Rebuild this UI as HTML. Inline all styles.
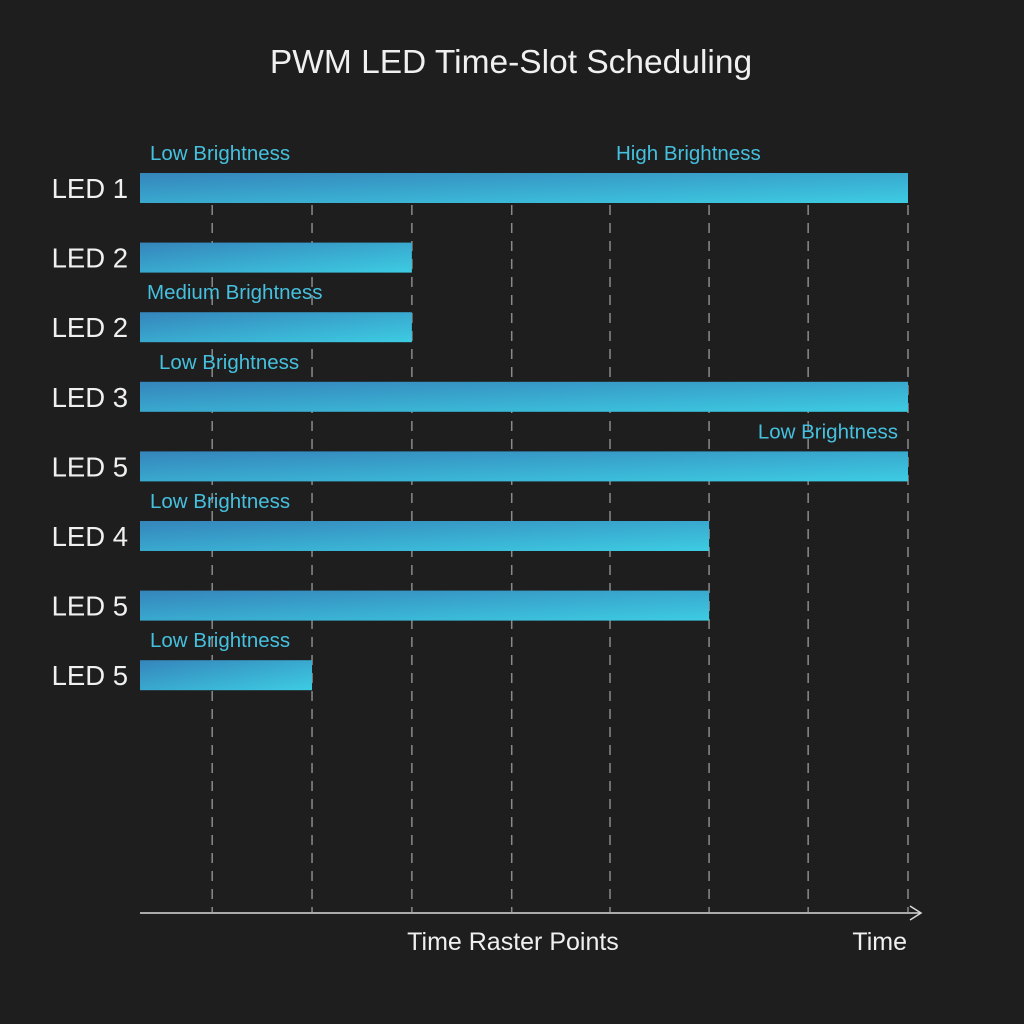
<!DOCTYPE html>
<html><head><meta charset="utf-8"><style>
html,body{margin:0;padding:0;background:#1e1e1e;}
svg{display:block;font-family:"Liberation Sans",sans-serif;}
</style></head><body>
<svg id="chart" width="1024" height="1024" viewBox="0 0 1024 1024">
<defs>
<linearGradient id="barGrad" x1="0" y1="0" x2="1" y2="1" gradientUnits="objectBoundingBox">
<stop offset="0" stop-color="#3585bb"/><stop offset="1" stop-color="#3dcce2"/>
</linearGradient>
</defs>
<rect width="1024" height="1024" fill="#1e1e1e"/>
<text x="511" y="73" text-anchor="middle" font-size="33.5" fill="#f0f0f0">PWM LED Time-Slot Scheduling</text>
<g id="grid"></g>
<g id="bars"></g>
<g>
<line x1="140" y1="913" x2="920" y2="913" stroke="#d8d8d8" stroke-width="1.5"/>
<polyline points="910,906 921,913 910,920" fill="none" stroke="#d8d8d8" stroke-width="1.5"/>
<text x="513" y="950" text-anchor="middle" font-size="25" fill="#f0f0f0">Time Raster Points</text>
<text x="907" y="950" text-anchor="end" font-size="25" fill="#f0f0f0">Time</text>
</g>
</svg>
<script>
const ledLabels = ["LED 1","LED 2","LED 2","LED 3","LED 5","LED 4","LED 5","LED 5"];
const barEnds = [100, 35.4, 35.4, 100, 100, 74.1, 74.1, 22.4];
const gridTicks = [9.4, 22.4, 35.4, 48.4, 61.2, 74.1, 87.0, 100];
const annotations = ["Low Brightness","","Medium Brightness","Low Brightness","Low Brightness","Low Brightness","","Low Brightness"];
const annotations2 = ["High Brightness","","","","","","",""];

const NS = "http://www.w3.org/2000/svg";
const x0 = 140, x1 = 908;
const xScale = v => x0 + (v / 100) * (x1 - x0);
const rowTop = i => 173 + i * 69.6;
const barH = 30;

const grid = document.getElementById('grid');
gridTicks.forEach(t => {
  const l = document.createElementNS(NS, 'line');
  l.setAttribute('x1', xScale(t)); l.setAttribute('x2', xScale(t));
  l.setAttribute('y1', 205); l.setAttribute('y2', 912);
  l.setAttribute('stroke', '#8a8a8a'); l.setAttribute('stroke-width', '1.5');
  l.setAttribute('stroke-dasharray', '10 8');
  
  
  grid.appendChild(l);
});

const bars = document.getElementById('bars');
function addText(x, y, s, size, fill, anchor, name) {
  const t = document.createElementNS(NS, 'text');
  t.setAttribute('x', x); t.setAttribute('y', y);
  t.setAttribute('font-size', size); t.setAttribute('fill', fill);
  t.setAttribute('text-anchor', anchor);
  t.textContent = s;
  
  
  bars.appendChild(t);
}
ledLabels.forEach((lab, i) => {
  const y = rowTop(i);
  const r = document.createElementNS(NS, 'rect');
  r.setAttribute('x', x0); r.setAttribute('y', y);
  r.setAttribute('width', xScale(barEnds[i]) - x0); r.setAttribute('height', barH);
  r.setAttribute('fill', 'url(#barGrad)');
  
  
  bars.appendChild(r);
  addText(128, y + 25, lab, 27.5, '#f0f0f0', 'end', 'led-label');
  if (annotations[i]) {
    const right = i === 4;
    addText(right ? 898 : (i === 3 ? 159 : (i === 2 ? 147 : 150)), y - 13, annotations[i], 20.5, '#45c0de', right ? 'end' : 'start', 'brightness-annotation');
  }
  if (annotations2[i]) addText(616, y - 13, annotations2[i], 20.5, '#45c0de', 'start', 'brightness-annotation');
});
</script>
</body></html>
